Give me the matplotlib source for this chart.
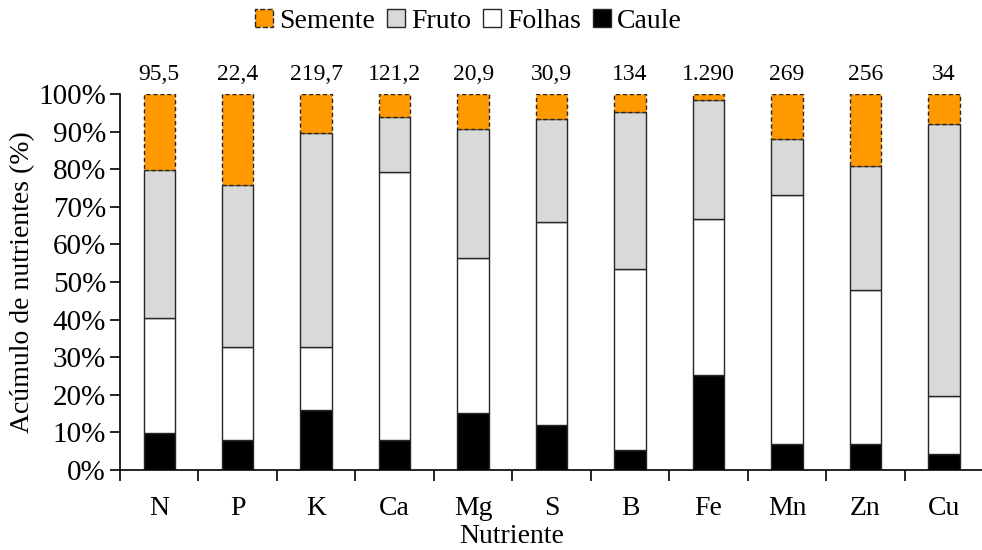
import numpy as np
import matplotlib
matplotlib.use("Agg")
import matplotlib.pyplot as plt
from matplotlib.patches import Patch

plt.rcParams['font.family'] = ['Liberation Serif', 'DejaVu Serif']

# Dados (% do acúmulo total por órgão)
nutrientes = ['N', 'P', 'K', 'Ca', 'Mg', 'S', 'B', 'Fe', 'Mn', 'Zn', 'Cu']
caule = [9.9, 8.0, 16.0, 8.0, 15.2, 12.0, 5.3, 25.2, 6.9, 6.9, 4.3]
folhas = [30.5, 24.7, 16.7, 71.3, 41.3, 53.9, 48.1, 41.6, 66.3, 41.1, 15.5]
fruto = [39.4, 43.1, 56.9, 14.5, 34.3, 27.5, 41.9, 31.6, 14.8, 32.9, 72.1]
semente = [20.2, 24.2, 10.4, 6.2, 9.2, 6.6, 4.7, 1.6, 12.0, 19.1, 8.1]
totais = ['95,5', '22,4', '219,7', '121,2', '20,9', '30,9', '134', '1.290', '269', '256', '34']

laranja = '#FF9900'
cinza = '#D9D9D9'
borda = '#262626'

fig = plt.figure(figsize=(9.82, 5.5), dpi=100)
ax = fig.add_axes([0.1222, 0.1455, 0.879, 0.6836])

x = np.arange(len(nutrientes))
w = 0.40
b1 = np.array(caule)
b2 = b1 + np.array(folhas)
b3 = b2 + np.array(fruto)

ax.bar(x, caule, w, color='black', edgecolor=borda, linewidth=1)
ax.bar(x, folhas, w, bottom=b1, color='white', edgecolor=borda, linewidth=1)
ax.bar(x, fruto, w, bottom=b2, color=cinza, edgecolor=borda, linewidth=1)
ax.bar(x, semente, w, bottom=b3, color=laranja, edgecolor=borda, linewidth=1,
       linestyle=(0, (3, 2)))

for xi, t in zip(x, totais):
    ax.text(xi, 105.2, t, ha='center', va='center', fontsize=17)

ax.set_xlim(-0.5, len(nutrientes) - 0.5)
ax.set_ylim(0, 100)
ax.set_yticks(np.arange(0, 101, 10))
ax.set_yticklabels([f'{v}%' for v in range(0, 101, 10)], fontsize=21)
ax.set_xticks(x)
ax.set_xticklabels(nutrientes, fontsize=20)
ax.set_xticks(np.arange(-0.5, len(nutrientes), 1), minor=True)
ax.tick_params(axis='x', which='major', length=0, pad=19)
ax.tick_params(axis='x', which='minor', length=8, width=1.2, direction='out')
ax.tick_params(axis='y', length=7, width=1.2, direction='out', pad=3)
for s in ['top', 'right']:
    ax.spines[s].set_visible(False)
for s in ['left', 'bottom']:
    ax.spines[s].set_linewidth(1.2)

ax.set_xlabel('Nutriente', fontsize=20)
ax.xaxis.set_label_coords(0.454, -0.143)
ax.set_ylabel('Acúmulo de nutrientes (%)', fontsize=20, labelpad=2)

handles = [
    Patch(facecolor=laranja, edgecolor=borda, linestyle='--', label='Semente'),
    Patch(facecolor=cinza, edgecolor=borda, label='Fruto'),
    Patch(facecolor='white', edgecolor=borda, label='Folhas'),
    Patch(facecolor='black', edgecolor=borda, label='Caule'),
]
fig.legend(handles=handles, loc='upper center', bbox_to_anchor=(0.477, 1.03), ncol=4,
           frameon=False, fontsize=20, handlelength=0.65, handleheight=0.65,
           handletextpad=0.2, columnspacing=0.45)

fig.savefig('out.png', dpi=100)
